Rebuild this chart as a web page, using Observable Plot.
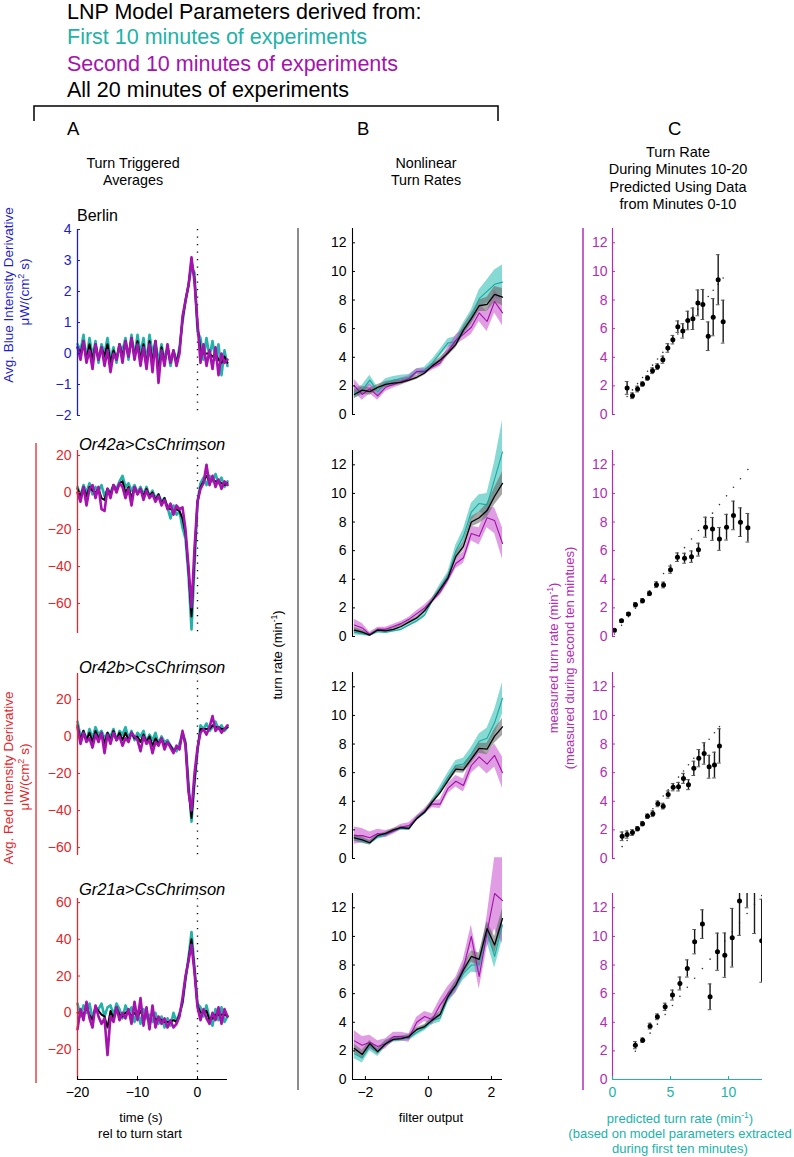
<!DOCTYPE html>
<html><head><meta charset="utf-8">
<script src="https://cdn.jsdelivr.net/npm/d3@7"></script>
<script src="https://cdn.jsdelivr.net/npm/@observablehq/plot@0.6"></script>
<style>
html,body{margin:0;padding:0;background:#fff;}
#root{position:relative;width:794px;height:1157px;overflow:hidden;font-family:"Liberation Sans",Arial,Helvetica,sans-serif;}
</style></head><body><div id="root"></div>
<script>
// ---------- colours ----------
const TEAL = "#22b2a8", MAG = "#a612ae", MAGAX = "#b32db3", RED = "#e3262b", BLUE = "#1c1cd0";
const FONT = '"Liberation Sans", Arial, Helvetica, sans-serif';

// ---------- column A : turn triggered averages ----------
const T_A = [-20,-19.5,-19,-18.5,-18,-17.5,-17,-16.5,-16,-15.5,-15,-14.5,-14,-13.5,-13,-12.5,-12,-11.5,-11,-10.5,-10,-9.5,-9,-8.5,-8,-7.5,-7,-6.5,-6,-5.5,-5,-4.5,-4,-3.5,-3,-2.5,-2,-1.5,-1,-0.5,0,0.5,1,1.5,2,2.5,3,3.5,4,4.5,5];

const berlinTeal  = [0.3,0.1,0.6,-0.2,0.5,-0.1,0.4,-0.3,0.3,0.0,0.5,-0.2,0.2,-0.3,0.3,0.1,0.5,-0.2,0.6,-0.1,0.6,0.0,0.5,-0.3,0.6,0.0,0.4,-0.3,0.3,-0.2,0.2,-0.4,0.1,-0.3,0.2,1.0,1.7,2.2,2.8,2.6,0.7,0.5,-0.2,0.5,-0.1,0.4,-0.2,0.3,-0.7,0.1,-0.4];
const berlinMag   = [0.2,-0.2,0.4,-0.3,0.1,-0.5,0.3,-0.2,0.2,-0.4,0.1,-0.6,0.0,-0.2,0.3,-0.3,0.4,-0.1,0.5,-0.2,0.3,-0.4,0.2,-0.5,0.3,-0.6,0.4,-0.95,0.1,-0.4,0.3,-0.3,0.1,-0.4,0.0,1.2,1.7,2.2,3.1,2.3,1.0,-0.3,0.3,-0.4,0.1,-0.5,0.2,-0.7,0.0,-0.3,-0.2];
const berlinBlack = [0.2,0.0,0.4,-0.2,0.3,-0.2,0.3,-0.2,0.2,-0.1,0.3,-0.3,0.1,-0.2,0.3,-0.1,0.4,-0.1,0.5,-0.1,0.4,-0.2,0.3,-0.4,0.4,-0.3,0.4,-0.6,0.2,-0.3,0.2,-0.3,0.1,-0.3,0.1,1.1,1.7,2.2,3.0,2.4,0.9,0.1,0.0,0.0,0.0,-0.1,0.0,-0.2,-0.3,-0.1,-0.3];

const or42aTeal  = [3,-2,4,0,5,-1,3,1,4,-2,2,0,4,2,6,9,3,5,1,4,0,3,-1,3,-2,1,-3,-1,-5,-3,-8,-14,-7,-12,-10,-19,-25,-45,-74,-40,-5,5,8,4,9,6,10,5,8,3,6];
const or42aMag   = [0,-5,3,-7,2,4,-3,3,-9,-10,2,-3,4,0,5,3,-3,2,-7,3,-1,2,-4,1,-3,-1,-5,-2,-7,-4,-9,-6,-12,-7,-9,-8,-20,-40,-62,-30,-5,2,5,15,4,9,3,7,2,6,4];
const or42aBlack = [2,-2,3,-2,3,1,0,2,-3,-4,2,-1,4,1,5,6,0,3,-3,3,-1,2,-2,2,-2,0,-4,-1,-6,-3,-8,-9,-10,-9,-10,-14,-22,-42,-67,-35,-5,3,6,9,6,7,6,6,5,4,5];

const or42bTeal  = [8,0,3,-2,4,-1,5,1,3,-1,2,0,4,-2,3,1,5,-1,3,-2,2,0,3,-3,1,-2,2,-4,0,-3,-2,-5,-7,-8,-4,2,-3,-25,-46,-25,-8,6,4,7,3,5,8,4,6,3,5];
const or42bMag   = [5,-4,2,-3,-1,-6,1,-3,2,-9,1,-4,2,-2,0,-5,-1,-3,2,0,-2,-8,0,-4,-2,-9,-3,-5,-1,-7,-3,-6,-9,-5,-7,3,-5,-30,-40,-20,-6,2,4,1,5,11,3,5,2,4,6];
const or42bBlack = [6,-2,3,-2,2,-3,3,-1,2,-4,2,-2,3,-2,2,-2,2,-2,2,-1,0,-3,1,-3,0,-5,-1,-4,-1,-5,-3,-5,-8,-6,-6,2,-4,-28,-44,-24,-7,4,4,4,4,6,5,5,4,4,5];

const gr21aTeal  = [5,-2,4,0,5,-3,3,2,5,-2,3,4,-1,5,2,-3,4,0,3,-5,1,-6,2,-3,-1,-5,0,-6,-2,-8,-3,-7,0,-5,0,5,18,30,44,25,5,3,-2,4,-3,-7,2,-4,3,-5,-2];
const gr21aMag   = [-9,2,-4,6,-3,-8,4,-2,-6,-3,-23,-2,-5,3,-4,0,-3,2,-6,6,-4,8,-7,3,-9,4,-8,-2,-6,-3,-8,-4,-8,-6,-2,8,20,28,37,22,3,-4,2,-3,-6,0,-4,3,-6,2,-2];
const gr21aBlack = [0,0,-1,3,-1,-4,3,1,-1,-2,-8,1,-3,3,-1,-2,0,1,-2,0,-2,1,-3,0,-5,0,-4,-3,-4,-5,-5,-5,-4,-5,-1,6,19,29,40,23,4,0,0,1,-4,-3,-1,-1,-1,-1,-2];

const ticksBlue = [-2,-1,0,1,2,3,4];
const ticksRed1 = [-60,-40,-20,0,20];
const ticksRed2 = [-20,0,20,40,60];
const ticksTime = [-20,-10,0];

// ---------- column B : nonlinear turn rates ----------
const XB = [-2.35,-2.10,-1.86,-1.61,-1.36,-1.11,-0.87,-0.62,-0.37,-0.12,0.12,0.37,0.62,0.87,1.11,1.36,1.61,1.86,2.10,2.35];

const b1Teal  = [1.5,1.7,2.4,1.6,2.2,2.4,2.5,2.6,3.0,3.1,3.6,4.3,5.0,5.1,6.0,6.8,8.1,8.6,9.1,9.25];
const b1Mag   = [2.0,1.4,1.8,1.3,1.9,2.1,2.3,2.5,3.0,3.0,3.3,3.6,4.4,5.2,5.6,6.1,7.1,6.5,7.9,7.1];
const b1Black = [1.4,1.7,1.6,1.9,2.1,2.2,2.25,2.4,2.6,2.9,3.4,3.8,4.3,4.9,5.9,6.7,7.6,7.7,8.4,8.2];
const b1TealErr  = [0.35,0.35,0.35,0.3,0.3,0.25,0.25,0.2,0.2,0.2,0.25,0.25,0.3,0.35,0.4,0.5,0.6,0.8,1.0,1.2];
const b1MagErr   = [0.45,0.4,0.35,0.3,0.3,0.25,0.25,0.2,0.2,0.2,0.2,0.25,0.3,0.35,0.4,0.5,0.6,0.7,0.8,0.9];
const b1BlackErr = [0.3,0.25,0.25,0.2,0.2,0.2,0.15,0.15,0.15,0.15,0.15,0.2,0.2,0.25,0.3,0.35,0.4,0.5,0.55,0.6];

const b2Teal  = [0.3,0.2,0.1,0.35,0.3,0.4,0.5,0.8,1.1,1.5,2.5,3.4,4.2,6.0,7.0,8.7,9.3,9.2,11.0,12.9];
const b2Mag   = [0.8,0.6,0.15,0.5,0.5,0.7,0.9,1.2,1.6,2.0,2.5,3.1,4.0,5.1,5.5,7.2,7.0,8.3,8.1,6.5];
const b2Black = [0.45,0.3,0.1,0.45,0.4,0.5,0.7,1.0,1.3,1.8,2.5,3.3,4.1,5.6,6.3,8.0,8.3,8.8,9.8,10.7];
const b2TealErr  = [0.2,0.15,0.1,0.1,0.1,0.1,0.1,0.1,0.15,0.15,0.2,0.25,0.3,0.4,0.5,0.6,0.6,0.8,1.2,2.2];
const b2MagErr   = [0.4,0.3,0.15,0.15,0.15,0.15,0.15,0.15,0.2,0.2,0.2,0.25,0.3,0.35,0.4,0.5,0.6,0.7,0.9,1.1];
const b2BlackErr = [0.2,0.15,0.1,0.1,0.1,0.1,0.1,0.1,0.1,0.1,0.15,0.15,0.2,0.25,0.3,0.35,0.4,0.5,0.6,0.8];

const b3Teal  = [1.4,1.25,1.1,1.5,1.65,1.9,2.1,2.05,2.8,3.2,3.95,4.8,5.7,6.5,6.6,7.3,8.2,8.4,9.5,11.2];
const b3Mag   = [1.6,1.6,1.45,1.75,1.7,1.9,2.2,2.3,2.8,3.3,3.8,3.8,4.9,5.4,5.1,6.5,7.1,6.6,7.2,6.0];
const b3Black = [1.45,1.3,1.1,1.6,1.75,2.0,2.15,2.1,2.8,3.25,3.95,4.6,5.45,6.25,6.2,6.95,7.7,7.65,8.55,9.2];
const b3TealErr  = [0.2,0.2,0.15,0.15,0.15,0.1,0.1,0.1,0.15,0.15,0.2,0.25,0.3,0.35,0.4,0.45,0.5,0.7,0.9,1.1];
const b3MagErr   = [0.6,0.5,0.4,0.3,0.25,0.2,0.2,0.2,0.2,0.2,0.25,0.3,0.35,0.4,0.45,0.55,0.65,0.7,0.8,1.1];
const b3BlackErr = [0.25,0.2,0.15,0.1,0.1,0.1,0.1,0.1,0.1,0.1,0.15,0.15,0.2,0.25,0.25,0.3,0.35,0.4,0.5,0.6];

const b4Teal  = [1.8,1.5,2.3,1.9,2.5,2.8,2.85,2.9,3.3,3.6,4.1,4.3,5.7,6.5,7.4,8.0,8.0,10.3,8.6,10.8];
const b4Mag   = [2.7,2.4,2.6,2.3,2.5,3.0,3.0,2.9,4.0,4.4,4.2,5.2,6.0,6.6,7.8,10.0,7.2,10.3,13.0,12.5];
const b4Black = [2.17,1.75,2.5,1.95,2.5,2.8,2.85,3.0,3.5,3.7,4.15,4.55,5.8,6.6,7.65,8.6,8.4,10.55,9.4,11.25];
const b4TealErr  = [0.35,0.35,0.3,0.3,0.25,0.2,0.2,0.2,0.2,0.2,0.25,0.3,0.35,0.4,0.45,0.5,0.55,0.7,0.8,1.0];
const b4MagErr   = [0.7,0.6,0.5,0.4,0.35,0.3,0.3,0.3,0.35,0.35,0.4,0.45,0.5,0.55,0.6,0.8,0.9,1.1,2.5,3.0];
const b4BlackErr = [0.3,0.3,0.25,0.2,0.2,0.15,0.15,0.15,0.15,0.15,0.2,0.2,0.25,0.3,0.35,0.4,0.45,0.5,0.6,0.7];

const ticksRate = [0,2,4,6,8,10,12];
const ticksFilter = [-2,0,2];

// ---------- column C : predicted vs measured ----------
const c1Pred = [1.26,1.72,2.16,2.59,3.02,3.45,3.88,4.34,4.77,5.2,5.63,6.06,6.49,6.93,7.36,7.79,8.25,8.68,9.11,9.54];
const c1Meas = [1.86,1.31,1.78,2.13,2.55,3.06,3.34,3.83,4.65,5.23,6.14,5.84,6.57,6.69,7.8,7.69,5.47,6.8,9.42,6.49];
const c1Err  = [0.45,0.2,0.2,0.15,0.15,0.2,0.2,0.25,0.3,0.3,0.4,0.5,0.65,0.75,0.9,1.05,1.0,1.3,1.75,1.5];

const c2Pred = [0.17,0.78,1.38,1.98,2.59,3.19,3.79,4.4,5.0,5.6,6.21,6.81,7.41,8.02,8.62,9.22,9.83,10.43,11.03,11.67];
const c2Meas = [0.44,1.1,1.57,2.22,2.5,3.01,3.62,3.6,4.67,5.54,5.47,5.58,6.07,7.64,7.52,6.82,7.64,8.46,7.99,7.6];
const c2Err  = [0.1,0.1,0.1,0.15,0.15,0.15,0.2,0.2,0.25,0.3,0.35,0.4,0.45,0.7,0.8,0.8,0.9,1.0,1.0,1.0];

const c3Pred = [0.83,1.26,1.72,2.16,2.59,3.02,3.48,3.91,4.37,4.8,5.23,5.69,6.12,6.55,7.01,7.44,7.9,8.33,8.79,9.22];
const c3Meas = [1.55,1.67,1.81,2.08,2.43,2.96,3.13,3.82,3.66,4.47,4.98,5.02,5.6,5.16,6.3,7.01,7.34,6.41,6.53,7.87];
const c3Err  = [0.3,0.25,0.2,0.15,0.15,0.15,0.2,0.2,0.2,0.25,0.25,0.3,0.35,0.35,0.5,0.6,0.75,0.8,0.9,1.2];

const c4Pred = [1.97,2.6,3.24,3.87,4.54,5.17,5.81,6.45,7.08,7.75,8.41,9.05,9.68,10.32,10.95,11.6,12.24,12.86];
const c4Meas = [2.4,2.75,3.73,4.38,5.08,5.9,6.71,7.76,9.63,10.86,5.78,8.93,8.69,9.91,12.47,14.0,14.5,9.7];
const c4Err  = [0.25,0.15,0.2,0.2,0.25,0.35,0.45,0.6,0.85,1.0,0.9,1.3,1.55,2.05,2.4,2.0,4.3,2.9];

const ticksPred = [0,5,10];

// ---------- helpers ----------
const root = document.getElementById("root");
const fmt = d => d < 0 ? "\u2212" + Math.abs(d) : String(d);
const baseStyle = {fontFamily: FONT, fontSize: "14px", background: "transparent", overflow: "visible"};
function place(el, left, top) {
  el.style.position = "absolute";
  el.style.left = left + "px";
  el.style.top = top + "px";
  el.style.overflow = "visible";
  root.appendChild(el);
}

function panelA(o) {
  const data = T_A.map((t, i) => ({t, c: o.teal[i], m: o.mag[i], k: o.black[i]}));
  const xDom = [-20, 5];
  const ml = 50, mr = 10, mt = 10, mb = o.xTicks ? 40 : 10, H = o.bottom - o.top;
  const marks = [
    Plot.ruleX([0], {stroke: "#111", strokeWidth: 1.4, strokeDasharray: "1.3,6.2"}),
    Plot.lineY(data, {x: "t", y: "c", stroke: TEAL, strokeWidth: 2.6, strokeLinejoin: "round"}),
    Plot.lineY(data, {x: "t", y: "k", stroke: "#000", strokeWidth: 2, strokeLinejoin: "round"}),
    Plot.lineY(data, {x: "t", y: "m", stroke: MAG, strokeWidth: 2.6, strokeLinejoin: "round"}),
    Plot.ruleX([xDom[0]], {stroke: o.color, strokeWidth: 1.3}),
    Plot.axisY(o.yTicks, {color: o.color, tickSize: -3, tickPadding: 9, tickFormat: fmt, label: null, fontSize: 14})
  ];
  if (o.xTicks) {
    marks.push(Plot.ruleY([o.domain[0]], {stroke: "#000", strokeWidth: 1.2}));
    marks.push(Plot.axisX(o.xTicks, {tickSize: -3, tickPadding: 11, tickFormat: fmt, label: null, fontSize: 14}));
  }
  const p = Plot.plot({
    width: ml + 150 + mr, height: mt + H + mb,
    marginLeft: ml, marginRight: mr, marginTop: mt, marginBottom: mb,
    x: o.xTicks ? {domain: xDom, label: null} : {domain: xDom, axis: null, label: null},
    y: {domain: o.domain, label: null},
    style: baseStyle, marks
  });
  place(p, 77 - ml, o.top - mt);
}

function panelB(o) {
  const data = XB.map((x, i) => ({x, c: o.teal[i], ce: o.tealErr[i], m: o.mag[i], me: o.magErr[i], k: o.black[i], ke: o.blackErr[i]}));
  const xDom = [-2.41, 2.35];
  const ml = 50, mr = 10, mt = 40, mb = o.xTicks ? 40 : 10, H = o.bottom - o.top;
  const marks = [
    Plot.areaY(data, {x: "x", y1: d => d.c - d.ce, y2: d => d.c + d.ce, fill: "#3cc4b8", fillOpacity: 0.62}),
    Plot.areaY(data, {x: "x", y1: d => d.m - d.me, y2: d => d.m + d.me, fill: "#c84ccc", fillOpacity: 0.55}),
    Plot.areaY(data, {x: "x", y1: d => d.k - d.ke, y2: d => d.k + d.ke, fill: "#6a6a6a", fillOpacity: 0.6}),
    Plot.lineY(data, {x: "x", y: "c", stroke: "#17a99f", strokeWidth: 1.1}),
    Plot.lineY(data, {x: "x", y: "m", stroke: "#a010a8", strokeWidth: 1.1}),
    Plot.lineY(data, {x: "x", y: "k", stroke: "#000", strokeWidth: 1.3}),
    Plot.ruleX([xDom[0]], {y1: 0, y2: 13, stroke: "#000", strokeWidth: 1.1}),
    Plot.axisY(ticksRate, {tickSize: -3, tickPadding: 9, tickFormat: fmt, label: null, fontSize: 14})
  ];
  if (o.xTicks) {
    marks.push(Plot.ruleY([0], {stroke: "#000", strokeWidth: 1.1}));
    marks.push(Plot.axisX(o.xTicks, {tickSize: -3, tickPadding: 11, tickFormat: fmt, label: null, fontSize: 14}));
  }
  const p = Plot.plot({
    width: ml + 150 + mr, height: mt + H + mb,
    marginLeft: ml, marginRight: mr, marginTop: mt, marginBottom: mb,
    x: o.xTicks ? {domain: xDom, label: null} : {domain: xDom, axis: null, label: null},
    y: {domain: [0, 13], label: null},
    style: baseStyle, marks
  });
  place(p, 352 - ml, o.top - mt);
}

function panelC(o) {
  const data = o.pred.map((x, i) => ({x, y: o.meas[i], e: o.err[i]}));
  const xDom = [0, 12.93];
  const ml = 50, mr = 10, mt = 10, mb = o.xTicks ? 40 : 10, H = o.bottom - o.top;
  const marks = [
    Plot.dot(data, {x: "x", y: "x", r: 0.8, fill: "#333", stroke: null, clip: true}),
    Plot.ruleX(data, {x: "x", y1: d => d.y - d.e, y2: d => d.y + d.e, stroke: "#1a1a1a", strokeWidth: 1.4, clip: true}),
    Plot.ruleY(data, {y: d => d.y + d.e, x1: d => d.x - 0.16, x2: d => d.x + 0.16, stroke: "#555", strokeWidth: 1, clip: true}),
    Plot.ruleY(data, {y: d => d.y - d.e, x1: d => d.x - 0.16, x2: d => d.x + 0.16, stroke: "#555", strokeWidth: 1, clip: true}),
    Plot.dot(data, {x: "x", y: "y", r: 2.5, fill: "#000", stroke: null, clip: true}),
    Plot.ruleX([xDom[0]], {y1: 0, y2: 13, stroke: MAGAX, strokeWidth: 1.2}),
    Plot.axisY(ticksRate, {color: MAGAX, tickSize: -3, tickPadding: 8, tickFormat: fmt, label: null, fontSize: 14})
  ];
  if (o.xTicks) {
    marks.push(Plot.ruleY([0], {stroke: TEAL, strokeWidth: 1.2}));
    marks.push(Plot.axisX(o.xTicks, {color: TEAL, tickSize: -3, tickPadding: 11, tickFormat: fmt, label: null, fontSize: 14}));
  }
  const p = Plot.plot({
    width: ml + 150 + mr, height: mt + H + mb,
    marginLeft: ml, marginRight: mr, marginTop: mt, marginBottom: mb,
    x: o.xTicks ? {domain: xDom, label: null} : {domain: xDom, axis: null, label: null},
    y: {domain: [0, 13], label: null},
    style: baseStyle, marks
  });
  place(p, 612 - ml, o.top - mt);
}

// ---------- column A panels ----------
panelA({teal: berlinTeal, mag: berlinMag, black: berlinBlack, domain: [-2, 4], yTicks: ticksBlue, color: BLUE, top: 229, bottom: 415});
panelA({teal: or42aTeal, mag: or42aMag, black: or42aBlack, domain: [-76.2, 22.7], yTicks: ticksRed1, color: RED, top: 450, bottom: 633});
panelA({teal: or42bTeal, mag: or42bMag, black: or42bBlack, domain: [-64.3, 34], yTicks: ticksRed1, color: RED, top: 673, bottom: 855});
panelA({teal: gr21aTeal, mag: gr21aMag, black: gr21aBlack, domain: [-36.3, 62.2], yTicks: ticksRed2, color: RED, top: 898, bottom: 1079, xTicks: ticksTime});

// ---------- column B panels ----------
panelB({teal: b1Teal, mag: b1Mag, black: b1Black, tealErr: b1TealErr, magErr: b1MagErr, blackErr: b1BlackErr, top: 228, bottom: 414});
panelB({teal: b2Teal, mag: b2Mag, black: b2Black, tealErr: b2TealErr, magErr: b2MagErr, blackErr: b2BlackErr, top: 450, bottom: 636});
panelB({teal: b3Teal, mag: b3Mag, black: b3Black, tealErr: b3TealErr, magErr: b3MagErr, blackErr: b3BlackErr, top: 672, bottom: 858});
panelB({teal: b4Teal, mag: b4Mag, black: b4Black, tealErr: b4TealErr, magErr: b4MagErr, blackErr: b4BlackErr, top: 893, bottom: 1079, xTicks: ticksFilter});

// ---------- column C panels ----------
panelC({pred: c1Pred, meas: c1Meas, err: c1Err, top: 228, bottom: 414});
panelC({pred: c2Pred, meas: c2Meas, err: c2Err, top: 450, bottom: 636});
panelC({pred: c3Pred, meas: c3Meas, err: c3Err, top: 672, bottom: 858});
panelC({pred: c4Pred, meas: c4Meas, err: c4Err, top: 893, bottom: 1079, xTicks: ticksPred});

// ---------- annotation overlay ----------
const ov = d3.select(root).append("svg")
  .attr("width", 794).attr("height", 1157)
  .style("position", "absolute").style("left", "0px").style("top", "0px")
  .style("pointer-events", "none")
  .attr("font-family", FONT);

function txt(x, y, s, opt = {}) {
  const t = ov.append("text").attr("x", x).attr("y", y)
    .attr("font-size", opt.size || 14)
    .attr("fill", opt.color || "#000")
    .attr("text-anchor", opt.anchor || "start");
  if (opt.italic) t.attr("font-style", "italic");
  if (opt.rotate) t.attr("transform", `rotate(-90 ${x} ${y})`);
  t.text(s);
  return t;
}
function line(x1, y1, x2, y2, color, w) {
  ov.append("line").attr("x1", x1).attr("y1", y1).attr("x2", x2).attr("y2", y2)
    .attr("stroke", color).attr("stroke-width", w || 1.3);
}

// header
txt(67, 18.5, "LNP Model Parameters derived from:", {size: 21.5});
txt(67, 43.5, "First 10 minutes of experiments", {size: 21.5, color: TEAL});
txt(67, 70.5, "Second 10 minutes of experiments", {size: 21.5, color: MAG});
txt(67, 97, "All 20 minutes of experiments", {size: 21.5});
ov.append("path").attr("d", "M34,121 V106 H498 V121").attr("fill", "none").attr("stroke", "#000").attr("stroke-width", 1.5);

// column letters and titles
txt(67, 135, "A", {size: 18.5});
txt(357, 135, "B", {size: 18.5});
txt(668, 135, "C", {size: 18.5});
txt(133, 167.7, "Turn Triggered", {size: 14.3, anchor: "middle"});
txt(133, 185, "Averages", {size: 14.3, anchor: "middle"});
txt(426, 167.7, "Nonlinear", {size: 14.3, anchor: "middle"});
txt(426, 185, "Turn Rates", {size: 14.3, anchor: "middle"});
txt(678, 156.7, "Turn Rate", {size: 14.5, anchor: "middle"});
txt(678, 174.3, "During Minutes 10-20", {size: 14.5, anchor: "middle"});
txt(678, 191.7, "Predicted Using Data", {size: 14.5, anchor: "middle"});
txt(678, 209, "from Minutes 0-10", {size: 14.5, anchor: "middle"});

// panel names
txt(77, 221, "Berlin", {size: 16});
txt(79, 450, "Or42a>CsChrimson", {size: 16.5, italic: true});
txt(79, 673, "Or42b>CsChrimson", {size: 16.5, italic: true});
txt(79, 895, "Gr21a>CsChrimson", {size: 16.5, italic: true});

// left axis labels
txt(13, 295, "Avg. Blue Intensity Derivative", {size: 13.5, color: BLUE, anchor: "middle", rotate: true});
const bl = txt(29, 292, "", {size: 13.5, color: BLUE, anchor: "middle", rotate: true});
bl.append("tspan").text("\u03bcW/(cm");
bl.append("tspan").attr("font-size", 9).attr("dy", -5).text("2");
bl.append("tspan").attr("dy", 5).text(" s)");
line(36, 443, 36, 1083, RED, 1.3);
txt(13, 778, "Avg. Red Intensity Derivative", {size: 13.5, color: RED, anchor: "middle", rotate: true});
const rl = txt(29, 777, "", {size: 13.5, color: RED, anchor: "middle", rotate: true});
rl.append("tspan").text("\u03bcW/(cm");
rl.append("tspan").attr("font-size", 9).attr("dy", -5).text("2");
rl.append("tspan").attr("dy", 5).text(" s)");

// column B side label
line(298, 228, 298, 1090, "#666", 1.5);
const tr = txt(282, 655, "", {size: 13, anchor: "middle", rotate: true});
tr.append("tspan").text("turn rate (min");
tr.append("tspan").attr("font-size", 8.5).attr("dy", -5).text("-1");
tr.append("tspan").attr("dy", 5).text(")");

// column C side label
line(583, 228, 583, 1090, MAGAX, 1.5);
const m1 = txt(558, 658, "", {size: 13, color: MAGAX, anchor: "middle", rotate: true});
m1.append("tspan").text("measured turn rate (min");
m1.append("tspan").attr("font-size", 8.5).attr("dy", -5).text("-1");
m1.append("tspan").attr("dy", 5).text(")");
txt(574, 658, "(measured during second ten mintues)", {size: 13, color: MAGAX, anchor: "middle", rotate: true});

// bottom labels
txt(141, 1122, "time (s)", {size: 13, anchor: "middle"});
txt(140, 1138, "rel to turn start", {size: 13, anchor: "middle"});
txt(431, 1122, "filter output", {size: 13, anchor: "middle"});
const p1 = txt(680, 1123, "", {size: 13, color: TEAL, anchor: "middle"});
p1.append("tspan").text("predicted turn rate (min");
p1.append("tspan").attr("font-size", 8.5).attr("dy", -5).text("-1");
p1.append("tspan").attr("dy", 5).text(")");
txt(680, 1138, "(based on model parameters extracted", {size: 13, color: TEAL, anchor: "middle"});
txt(680, 1153, "during first ten minutes)", {size: 13, color: TEAL, anchor: "middle"});
</script>
</body></html>
